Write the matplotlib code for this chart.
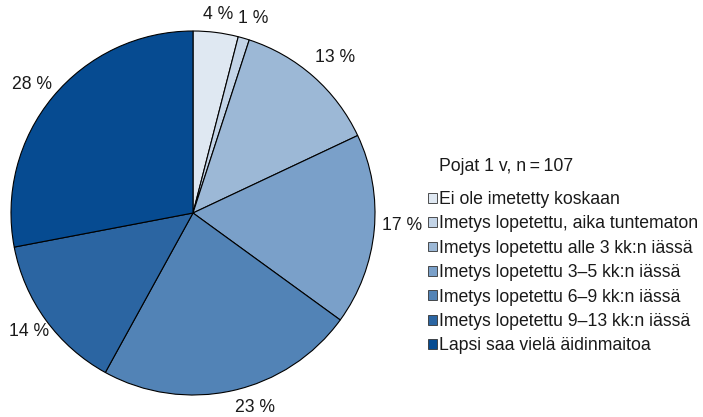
import matplotlib
matplotlib.use("Agg")
import matplotlib.pyplot as plt
import numpy as np

plt.rcParams['font.family'] = ['Liberation Sans', 'DejaVu Sans']

categories = [
    "Ei ole imetetty koskaan",
    "Imetys lopetettu, aika tuntematon",
    "Imetys lopetettu alle 3 kk:n iässä",
    "Imetys lopetettu 3–5 kk:n iässä",
    "Imetys lopetettu 6–9 kk:n iässä",
    "Imetys lopetettu 9–13 kk:n iässä",
    "Lapsi saa vielä äidinmaitoa",
]
values = [4, 1, 13, 17, 23, 14, 28]
colors = ["#dfe8f2", "#c3d4e7", "#9cb8d6", "#7aa0c9", "#5283b6", "#2b65a2", "#064b91"]
title = "Pojat 1 v, n\u2009=\u2009107"

FS = 12.7
W, H = 703, 417
fig = plt.figure(figsize=(W / 100, H / 100), dpi=100)

cx, cy, r = 193, 213, 182
ax = fig.add_axes([(cx - r) / W, (H - cy - r) / H, 2 * r / W, 2 * r / H])

wedges, _ = ax.pie(
    values, colors=colors, startangle=90, counterclock=False, radius=1.0,
    wedgeprops=dict(edgecolor="black", linewidth=0.8),
)

# percentage labels just outside each wedge (small angular nudges keep them clear)
label_nudge = [0, -1, -1, 2, 5, 0, 1]
label_radius = [1.10, 1.12, 1.16, 1.15, 1.12, 1.11, 1.13]
for w, v, dn, lr in zip(wedges, values, label_nudge, label_radius):
    mid = np.deg2rad((w.theta1 + w.theta2) / 2 + dn)
    ax.text(lr * np.cos(mid), lr * np.sin(mid), f"{v} %", fontsize=FS,
            color="#1a1a1a", ha="center", va="center")
ax.set_xlim(-1, 1)
ax.set_ylim(-1, 1)
ax.set_aspect("equal")

fig.text(439 / W, 1 - 167 / H, title, fontsize=FS, color="#1a1a1a",
         ha="left", va="center")

leg = fig.legend(
    wedges, categories, loc="upper left",
    bbox_to_anchor=(428 / W, 1 - 191 / H), frameon=False,
    fontsize=FS, handlelength=0.52, handleheight=0.48, handletextpad=0.08,
    labelspacing=0.42, borderpad=0.0, borderaxespad=0.0,
)
for h in leg.legend_handles:
    h.set_edgecolor("#333333")
    h.set_linewidth(0.6)
for t in leg.get_texts():
    t.set_color("#1a1a1a")

fig.savefig("out.png", dpi=100)
